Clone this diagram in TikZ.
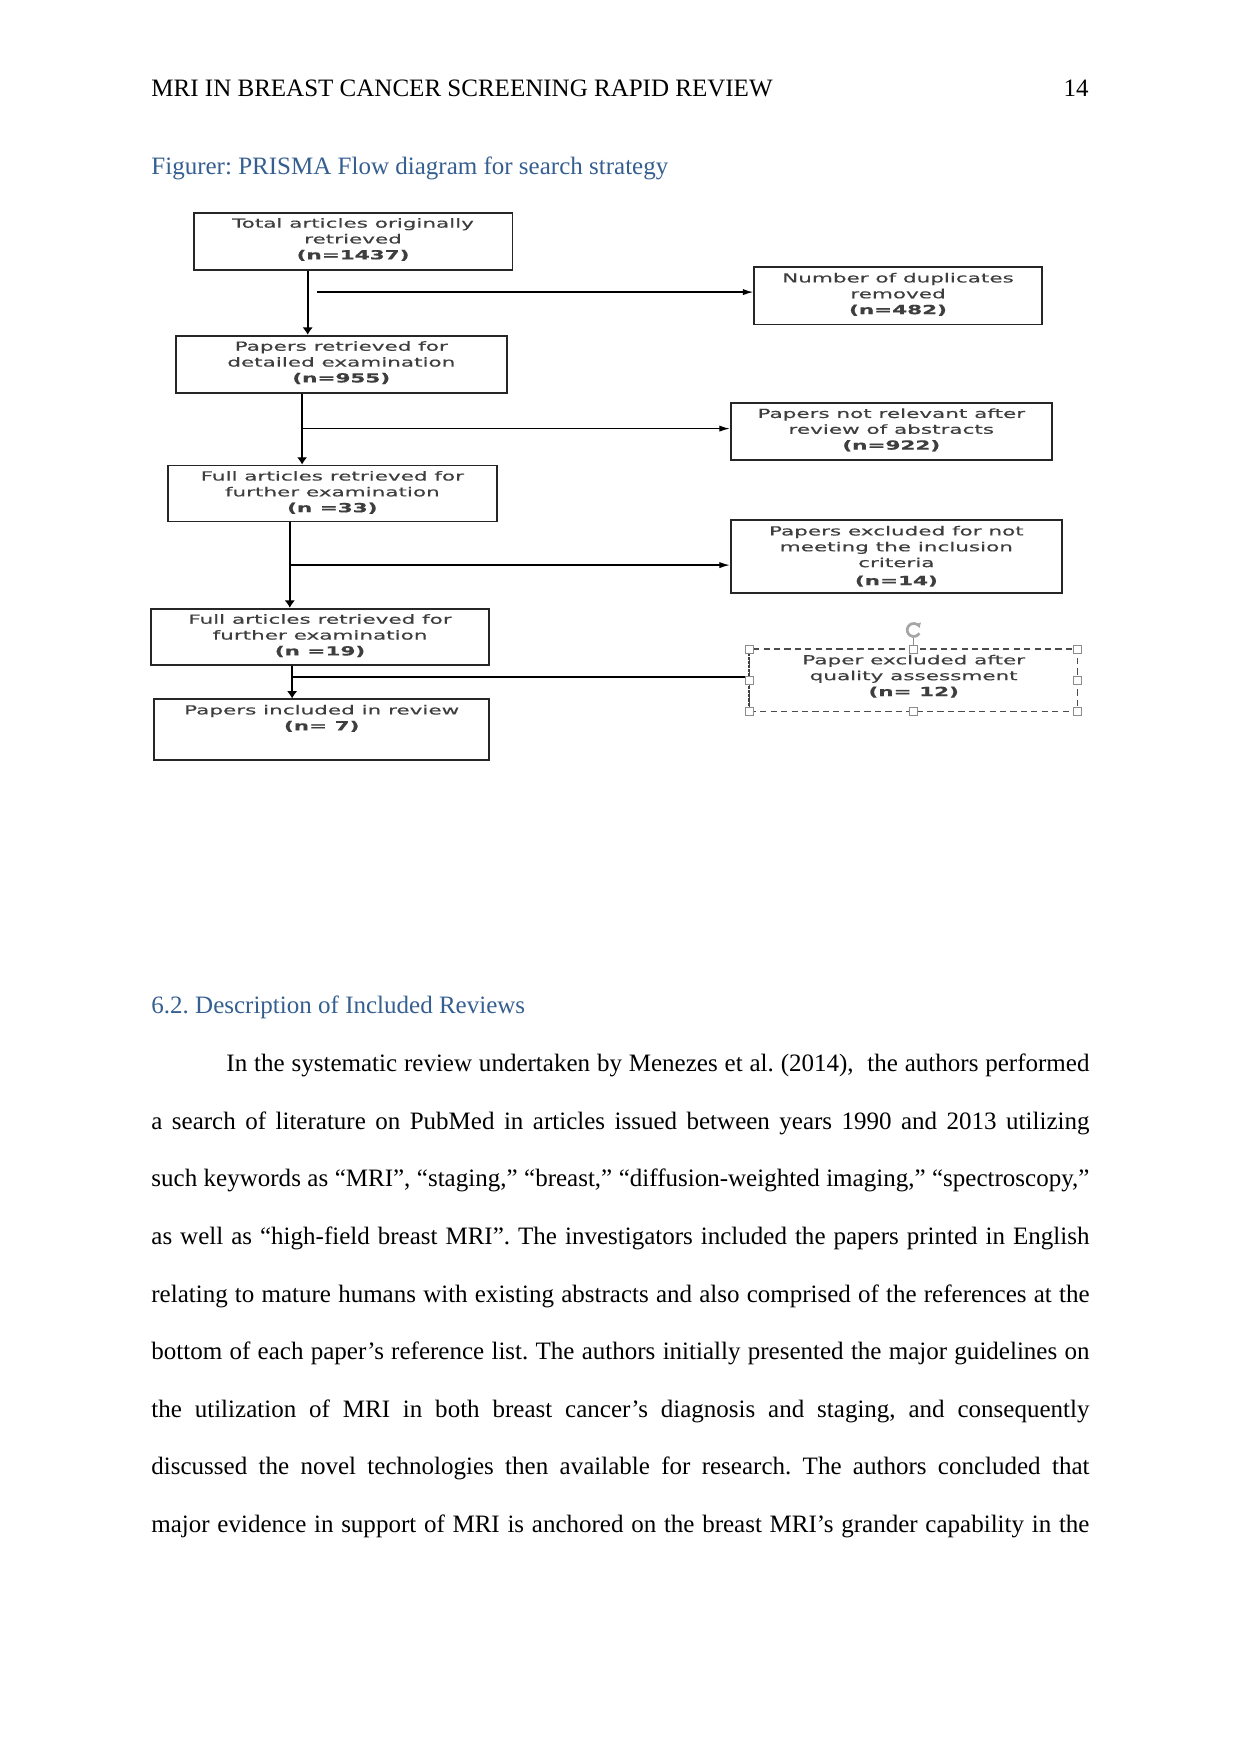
\documentclass[tikz,border=0pt]{standalone}
\usepackage{fontspec}
\setmainfont{Liberation Serif}
\newfontfamily\boxfont[FakeStretch=1.72,FakeBold=0.4]{DejaVu Sans}
\usetikzlibrary{arrows.meta,fit}
\definecolor{headblue}{RGB}{54,95,145}
\definecolor{boxtext}{RGB}{62,62,62}
\tikzset{
  box/.style={draw=black!85, line width=0.9pt, inner sep=0pt, rectangle},
  qbox/.style={draw=black!70, line width=0.6pt, densely dashed, inner sep=0pt, rectangle},
  btxt/.style={font=\boxfont\fontsize{6}{7.6}\selectfont, text=boxtext, align=center, inner sep=0pt, anchor=north},
  varrow/.style={line width=1pt, -{Latex[length=3.5pt,width=5pt]}},
  harrow/.style={line width=0.6pt, -{Latex[length=5pt,width=3pt]}},
  hline/.style={line width=0.6pt},
  handle/.style={draw=black!45, fill=white, line width=0.4pt},
  pagetext/.style={font=\fontsize{12}{14}\selectfont, inner sep=0pt, anchor=base west},
}
\frenchspacing
\begin{document}
\begin{tikzpicture}[x=0.4797pt,y=-0.4797pt]
\useasboundingbox[fill=white] (0,0) rectangle (1241,1754);

% header
\node[pagetext] (hdr) at (151,97) {MRI IN BREAST CANCER SCREENING RAPID REVIEW};
\node[pagetext, anchor=base east] (pg) at (1089,97) {14};
\node[pagetext, text=headblue] (cap) at (151,174.6) {Figurer: PRISMA Flow diagram for search strategy};

% boxes
\node[box, fit={(193.6,212.6) (512.5,269.7)}] (b1) {};
\node[box, fit={(754.2,267.4) (1041.8,324.5)}] (b2) {};
\node[box, fit={(175.7,335.7) (506.9,392.8)}] (b3) {};
\node[box, fit={(730.7,402.9) (1051.9,459.9)}] (b4) {};
\node[box, fit={(167.9,465.5) (496.8,521.5)}] (b5) {};
\node[box, fit={(730.7,520.4) (1062.0,593.1)}] (b6) {};
\node[box, fit={(151.1,608.7) (489.0,664.7)}] (b7) {};
\node[qbox, fit={(749.8,649.0) (1077.6,711.7)}] (b8) {};
\node[box, fit={(154.4,699.4) (489.0,759.8)}] (b9) {};

% box texts
\node[btxt] (t1) at ([yshift=-2.9pt]b1.north) {Total articles originally\\retrieved\\\textbf{(n=1437)}};
\node[btxt] (t2) at ([yshift=-2.9pt]b2.north) {Number of duplicates\\removed\\\textbf{(n=482)}};
\node[btxt] (t3) at ([yshift=-2.9pt]b3.north) {Papers retrieved for\\detailed examination\\\textbf{(n=955)}};
\node[btxt] (t4) at ([yshift=-2.9pt]b4.north) {Papers not relevant after\\review of abstracts\\\textbf{(n=922)}};
\node[btxt] (t5) at ([yshift=-2.9pt]b5.north) {Full articles retrieved for\\further examination\\\textbf{(n =33)}};
\node[btxt] (t6) at ([yshift=-2.9pt]b6.north) {Papers excluded for not\\meeting the inclusion\\criteria\\[1pt]\textbf{(n=14)}};
\node[btxt] (t7) at ([yshift=-2.9pt]b7.north) {Full articles retrieved for\\further examination\\\textbf{(n =19)}};
\node[btxt] (t8) at ([yshift=-2.9pt]b8.north) {Paper excluded after\\quality assessment\\\textbf{(n= 12)}};
\node[btxt] (t9) at ([yshift=-2.9pt]b9.north) {Papers included in review\\\textbf{(n= 7)}};

% connector coordinates
\coordinate (v1) at (307.7,292.1);
\coordinate (h1) at (316.7,292.1);
\coordinate (v2) at (302.1,428.6);
\coordinate (v3) at (289.8,565.1);
\coordinate (v4) at (292.1,677.0);

\draw[varrow] (v1 |- b1.south) -- (v1 |- b3.north);
\draw[harrow] (h1) -- (h1 -| b2.west);
\draw[varrow] (v2 |- b3.south) -- (v2 |- b5.north);
\draw[harrow] (v2) -- (v2 -| b4.west);
\draw[varrow] (v3 |- b5.south) -- (v3 |- b7.north);
\draw[harrow] (v3) -- (v3 -| b6.west);
\draw[varrow] (v4 |- b7.south) -- (v4 |- b9.north);
\draw[hline] (v4) -- (v4 -| b8.west);

% selection handles on the quality box
\draw[line width=1pt, black!75, dash pattern=on 1.5pt off 0.5pt] (b8.north west) -- (b8.south west);
\draw[black!45, line width=0.4pt] (b8.north) -- ++(0,-10);
\draw[black!35, line width=1.3pt, -{Latex[length=2.2pt,width=3pt]}] (913.7,630) ++(30:6.5) arc[start angle=30, end angle=340, radius=6.5];
\foreach \hx in {749.8,913.7,1077.6}{
  \foreach \hy in {649.0,711.7}{
    \draw[handle] (\hx-4,\hy-4) rectangle (\hx+4,\hy+4);
  }
}
\draw[handle] (749.8-4,680.4-4) rectangle (749.8+4,680.4+4);
\draw[handle] (1077.6-4,680.4-4) rectangle (1077.6+4,680.4+4);

% body
\node[pagetext, text=headblue] (sec) at (151,1013.8) {6.2. Description of Included Reviews};
\node[pagetext] (l1) at (151,1071.5) {\makebox[450pt][s]{\hspace*{36pt}In the systematic review undertaken by Menezes et al. (2014),~ the authors performed}};
\node[pagetext] (l2) at (151,1129.1) {\makebox[450pt][s]{a search of literature on PubMed in articles issued between years 1990 and 2013 utilizing}};
\node[pagetext] (l3) at (151,1186.7) {\makebox[450pt][s]{such keywords as “MRI”, “staging,” “breast,” “diffusion-weighted imaging,” “spectroscopy,”}};
\node[pagetext] (l4) at (151,1244.4) {\makebox[450pt][s]{as well as “high-field breast MRI”. The investigators included the papers printed in English}};
\node[pagetext] (l5) at (151,1302.0) {\makebox[450pt][s]{relating to mature humans with existing abstracts and also comprised of the references at the}};
\node[pagetext] (l6) at (151,1359.6) {\makebox[450pt][s]{bottom of each paper’s reference list. The authors initially presented the major guidelines on}};
\node[pagetext] (l7) at (151,1417.3) {\makebox[450pt][s]{the utilization of MRI in both breast cancer’s diagnosis and staging, and consequently}};
\node[pagetext] (l8) at (151,1474.9) {\makebox[450pt][s]{discussed the novel technologies then available for research. The authors concluded that}};
\node[pagetext] (l9) at (151,1532.5) {\makebox[450pt][s]{major evidence in support of MRI is anchored on the breast MRI’s grander capability in the}};
\end{tikzpicture}
\end{document}
